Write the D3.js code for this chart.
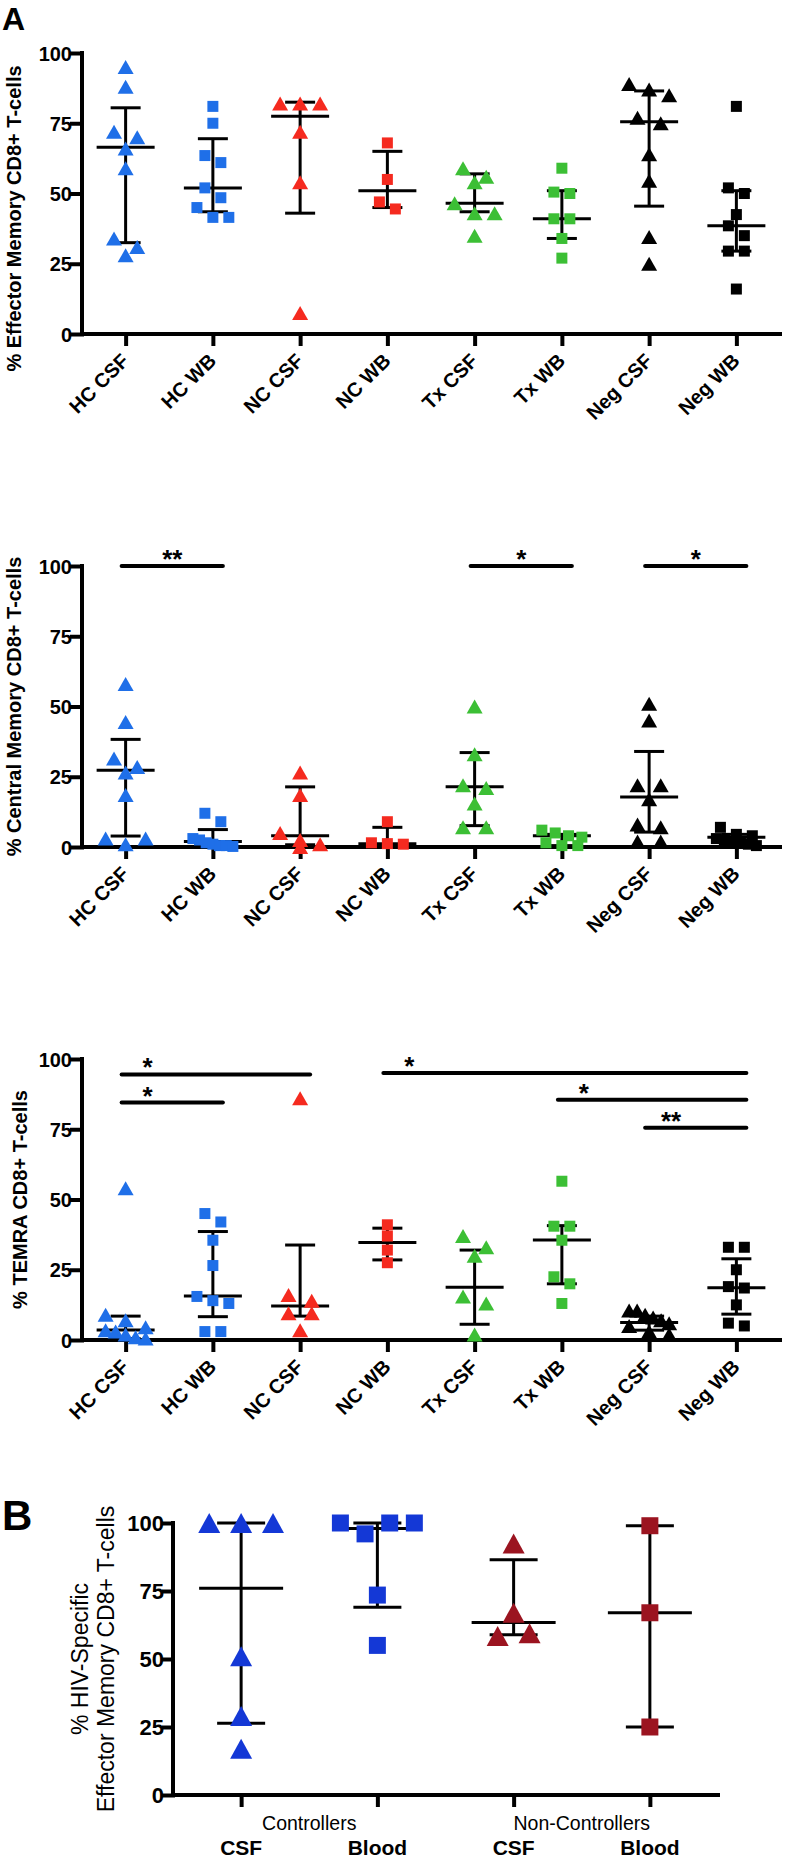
<!DOCTYPE html>
<html>
<head>
<meta charset="utf-8">
<script src="https://cdn.jsdelivr.net/npm/d3@7"></script>
<style>
body { margin: 0; background: #fff; }
svg { display: block; font-family: Arial, "Liberation Sans", sans-serif; }
</style>
</head>
<body>
<script>
// categories
var cats = ['HC CSF', 'HC WB', 'NC CSF', 'NC WB', 'Tx CSF', 'Tx WB', 'Neg CSF', 'Neg WB'];
var yTicks = [0, 25, 50, 75, 100];

// effector memory
var emValues = [
	[95, 88, 72, 70, 66, 59, 34, 31, 28],
	[81, 75, 63.5, 61, 52, 48.5, 45, 41.5, 41.5],
	[82, 82, 82, 72, 54, 7.5],
	[68, 55, 47, 44.5],
	[59, 56, 54, 46.5, 43, 43, 35],
	[59, 50.5, 50, 41, 41, 34, 27],
	[89, 87, 85, 77, 75, 64, 54.5, 34.5, 25],
	[81, 52, 50, 42.5, 38.5, 35, 29.5, 29.5, 16]
];
var emMedian = [66.5, 52, 77.5, 51, 46.5, 41, 75.5, 38.5];
var emQ1 = [32.5, 43.5, 43, 45, 43.5, 34, 45.5, 29.5];
var emQ3 = [80.5, 69.5, 82.5, 65, 57, 51, 86.5, 51];

// central memory
var cmValues = [
	[58, 44.5, 31.5, 28.5, 26.5, 18.5, 3, 1, 3],
	[12, 9, 3, 2.5, 1.5, 1, 0.5, 0.5, 0.2],
	[26.5, 18.5, 5, 2.5, 1, 0],
	[9, 1.5, 1.2, 1],
	[50, 33, 22, 21, 15.5, 7, 7],
	[6, 5, 4, 3.5, 1.5, 0.5, 0.5],
	[51, 45, 22, 22, 17, 8, 7, 2, 2],
	[7, 4.5, 4, 3, 2.5, 2, 1.5, 1, 0.5]
];
var cmMedian = [27.3, 2, 4, 1.2, 21.4, 4, 17.8, 3.5];
var cmQ1 = [3.9, 0.5, 0.8, 0.5, 7.6, 0.5, 5.3, 1.5];
var cmQ3 = [38.3, 6.2, 21.4, 7, 33.6, 4.5, 34, 4.5];
var cmSig = [['HC CSF', 'HC WB', '**', 100], ['Tx CSF', 'Tx WB', '*', 100], ['Neg CSF', 'Neg WB', '*', 100]];

// TEMRA
var temraValues = [
	[54, 9, 7, 4.5, 3.5, 3, 2, 1, 0.5],
	[45, 42, 35.5, 26.5, 15.5, 14, 13, 3, 3],
	[86, 16, 14, 9.5, 9.5, 3.5],
	[41, 37, 32, 27.5],
	[37, 33, 30, 15.5, 13, 2],
	[56.5, 40.5, 40.5, 35.5, 22.5, 20, 13],
	[10.5, 10.5, 9, 8, 7, 6, 5, 3, 2],
	[33, 33, 25, 19, 18.5, 12.5, 6, 5]
];
var temraMedian = [3.6, 15.7, 12.1, 34.7, 18.8, 35.6, 6.2, 18.6];
var temraQ1 = [0.5, 8.3, 8.5, 28.5, 5.6, 20, 3.5, 9.2];
var temraQ3 = [8.5, 38.6, 33.8, 39.8, 32, 40.7, 8.5, 28.9];
var temraSig = [['HC CSF', 'NC CSF', '*', 94.5], ['HC CSF', 'HC WB', '*', 84.5], ['NC WB', 'Neg WB', '*', 95],
	['Tx WB', 'Neg WB', '*', 85.5], ['Neg CSF', 'Neg WB', '**', 75.5]];

// HIV-specific (panel B)
var hivGroups = ['Controllers', 'Non-Controllers'];
var hivCats = ['CSF', 'Blood', 'CSF', 'Blood'];
var hivValues = [
	[100, 100, 100, 51, 29, 17],
	[100, 96, 100, 100, 73.5, 55],
	[67, 92.5, 58.5, 59.5],
	[99, 67, 25]
];
var hivMedian = [76, 98, 63.4, 67];
var hivQ1 = [26.4, 69, 58.9, 25];
var hivQ3 = [100, 100, 86.5, 99];

var svg = d3.select('body').append('svg').attr('width', 792).attr('height', 1858);

var blue = '#1f6fe8', red = '#f52a1f', green = '#3cbf35', black = '#000';
var colorsA = [blue, blue, red, red, green, green, black, black];

function tri(w, h) { return 'M0,' + (-h / 2) + 'L' + (w / 2) + ',' + (h / 2) + 'L' + (-w / 2) + ',' + (h / 2) + 'Z'; }
function sq(s) { return 'M' + (-s / 2) + ',' + (-s / 2) + 'h' + s + 'v' + s + 'h' + (-s) + 'Z'; }

// spread points sharing a height into a row, like a column scatter
function swarm(vals, y, h, step, maxHalf) {
	var idx = vals.map((v, i) => i).sort((a, b) => vals[b] - vals[a] || a - b);
	var off = vals.map(() => 0);
	var row = [];
	function flush() {
		var n = row.length, s = step;
		if (n > 1 && (n - 1) * s / 2 > maxHalf) s = 2 * maxHalf / (n - 1);
		row.slice().sort((a, b) => a - b).forEach((k, j) => off[k] = (j - (n - 1) / 2) * s);
	}
	idx.forEach(k => {
		if (row.length && y(vals[k]) - y(vals[row[0]]) >= h) { flush(); row = []; }
		row.push(k);
	});
	flush();
	return off;
}

function drawPanel(o) {
	var g = svg.append('g');
	var x = d3.scalePoint().domain(d3.range(o.values.length)).range([o.left, o.right]).padding(0.5);
	var y = d3.scaleLinear().domain([0, 100]).range([o.bottom, o.top]);

	// axes
	var ya = g.append('g').attr('transform', 'translate(' + o.left + ',0)')
		.call(d3.axisLeft(y).tickValues(yTicks).tickSize(o.tick).tickSizeOuter(0).tickPadding(0));
	var xa = g.append('g').attr('transform', 'translate(0,' + o.bottom + ')')
		.call(d3.axisBottom(x).tickSize(10).tickSizeOuter(0).tickFormat(i => o.labels ? o.labels[i] : ''));
	[ya, xa].forEach(a => {
		a.selectAll('path.domain, line').attr('stroke', '#000').attr('stroke-width', 4).attr('stroke-linecap', 'square');
		a.selectAll('text').attr('fill', '#000').attr('font-family', 'Arial, "Liberation Sans", sans-serif');
	});
	ya.select('path.domain').attr('d', 'M0,' + o.bottom + 'V' + o.top);
	xa.select('path.domain').attr('d', 'M' + o.left + ',0H' + o.right);
	ya.selectAll('text').attr('font-size', o.tickFont).attr('font-weight', 'bold').attr('dy', '0.36em');
	if (o.labels) {
		xa.selectAll('text')
			.attr('font-size', 20).attr('font-weight', 'bold')
			.attr('x', 0).attr('y', 0).attr('dy', null)
			.attr('text-anchor', 'end')
			.attr('transform', 'translate(4,28) rotate(-45)');
	}

	// y title
	var t = g.append('text')
		.attr('transform', 'translate(' + o.titleX + ',' + ((o.top + o.bottom) / 2 + o.titleDy) + ') rotate(-90)')
		.attr('text-anchor', 'middle').attr('font-size', o.titleFont).attr('font-weight', o.titleWeight);
	o.title.forEach((line, k) => t.append('tspan').attr('x', 0).attr('dy', k ? o.titleGap : 0).text(line));

	// median and interquartile range
	var bars = g.append('g').attr('stroke', '#000').attr('stroke-width', 3);
	o.values.forEach((v, i) => {
		var cx = x(i);
		bars.append('line').attr('x1', cx).attr('x2', cx).attr('y1', y(o.q1[i])).attr('y2', y(o.q3[i]));
		[o.q1[i], o.q3[i]].forEach(q => bars.append('line')
			.attr('x1', cx - o.capW).attr('x2', cx + o.capW).attr('y1', y(q)).attr('y2', y(q)));
		bars.append('line').attr('x1', cx - o.medW).attr('x2', cx + o.medW)
			.attr('y1', y(o.median[i])).attr('y2', y(o.median[i]));
	});

	// points
	o.values.forEach((v, i) => {
		var isTri = i % 2 === 0;
		var w = isTri ? o.triW : o.sqS, h = isTri ? o.triH : o.sqS;
		var off = swarm(v, y, h, w * 1.45, o.maxHalf);
		g.append('g').selectAll('path')
			.data(v)
			.enter().append('path')
				.attr('d', isTri ? tri(o.triW, o.triH) : sq(o.sqS))
				.attr('transform', (d, j) => 'translate(' + (x(i) + off[j]) + ',' + y(d) + ')')
				.attr('fill', o.colors[i]);
	});

	// significance bars
	(o.sig || []).forEach(s => {
		var x1 = x(cats.indexOf(s[0])) - 4, x2 = x(cats.indexOf(s[1])) + 10, yy = y(s[3]);
		g.append('line').attr('x1', x1).attr('x2', x2).attr('y1', yy).attr('y2', yy)
			.attr('stroke', '#000').attr('stroke-width', 4).attr('stroke-linecap', 'round');
		g.append('text')
			.attr('x', o.starAlign === 'start' ? x1 + 26 : (x1 + x2) / 2)
			.attr('y', yy + 2)
			.attr('text-anchor', 'middle').attr('font-size', 26).attr('font-weight', 'bold')
			.text(s[2]);
	});

	return x;
}

var baseA = {
	left: 82, right: 780, tick: 10, tickFont: 20, labels: cats, colors: colorsA,
	titleFont: 20, titleWeight: 'bold', titleGap: 0, titleX: 21,
	capW: 15, medW: 29, triW: 16, triH: 14, sqS: 11, maxHalf: 20
};

drawPanel(Object.assign({}, baseA, {
	top: 53, bottom: 334, titleDy: 25,
	values: emValues, median: emMedian, q1: emQ1, q3: emQ3,
	title: ['% Effector Memory CD8+ T-cells']
}));

drawPanel(Object.assign({}, baseA, {
	top: 566, bottom: 847, titleDy: 0,
	values: cmValues, median: cmMedian, q1: cmQ1, q3: cmQ3,
	title: ['% Central Memory CD8+ T-cells'], sig: cmSig, starAlign: 'center'
}));

drawPanel(Object.assign({}, baseA, {
	top: 1059, bottom: 1340, titleDy: 0, titleX: 27,
	values: temraValues, median: temraMedian, q1: temraQ1, q3: temraQ3,
	title: ['% TEMRA CD8+ T-cells'], sig: temraSig, starAlign: 'start'
}));

var xB = drawPanel({
	left: 173, right: 718, top: 1523, bottom: 1795, tick: 9, tickFont: 22, labels: null,
	colors: ['#1438d6', '#1438d6', '#9b1420', '#9b1420'],
	titleFont: 23, titleWeight: 'normal', titleGap: 26, titleX: 88, titleDy: 0,
	capW: 24, medW: 42, triW: 22, triH: 20, sqS: 17, maxHalf: 40,
	values: hivValues, median: hivMedian, q1: hivQ1, q3: hivQ3,
	title: ['% HIV-Specific', 'Effector Memory CD8+ T-cells']
});

// panel B category labels
svg.append('g').selectAll('text')
	.data(hivCats)
	.enter().append('text')
		.attr('x', (d, i) => xB(i))
		.attr('y', 1855)
		.attr('text-anchor', 'middle').attr('font-size', 21).attr('font-weight', 'bold')
		.text(d => d);
svg.append('g').selectAll('text')
	.data(hivGroups)
	.enter().append('text')
		.attr('x', (d, i) => (xB(2 * i) + xB(2 * i + 1)) / 2)
		.attr('y', 1830)
		.attr('text-anchor', 'middle').attr('font-size', 19.5)
		.text(d => d);

// panel letters
svg.append('text').attr('x', 2).attr('y', 30).attr('font-size', 32).attr('font-weight', 'bold').text('A');
svg.append('text').attr('x', 2).attr('y', 1530).attr('font-size', 42).attr('font-weight', 'bold').text('B');
</script>
</body>
</html>
